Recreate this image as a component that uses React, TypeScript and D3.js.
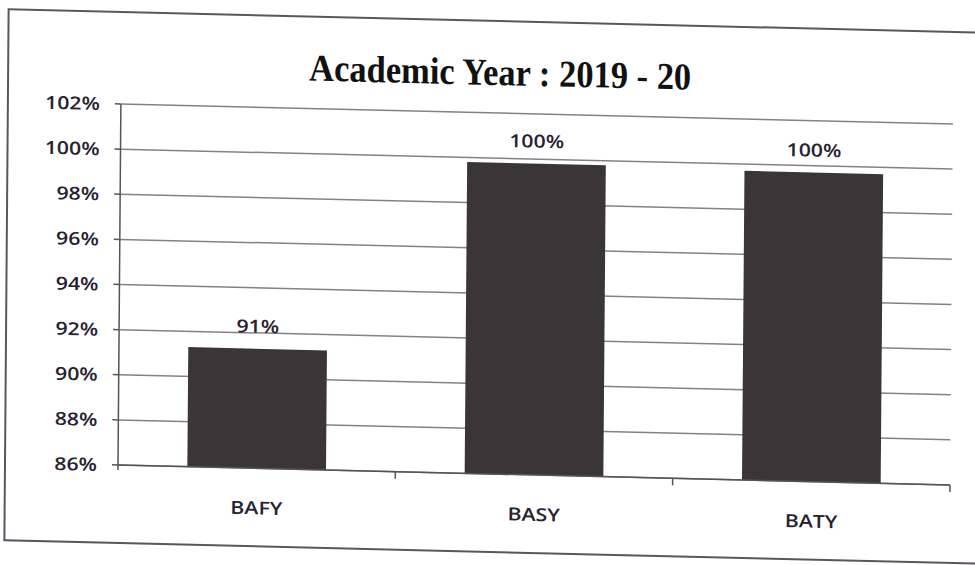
import React from "react";
import * as d3 from "d3";

const categories = ["BAFY", "BASY", "BATY"];
const values = [0.913, 0.998, 0.997];
const yTicks = [0.86, 0.88, 0.9, 0.92, 0.94, 0.96, 0.98, 1.0, 1.02];
const title = "Academic Year : 2019 - 20";

export default function App() {
  const W = 975;
  const H = 565;
  const left = 118;
  const right = 950;
  const top = 104;
  const bottom = 465;

  const x = d3.scaleBand<string>().domain(categories).range([left, right]).paddingInner(0.5).paddingOuter(0.25);
  const y = d3.scaleLinear().domain([0.86, 1.02]).range([bottom, top]);
  const fmt = d3.format(".0%");
  const step = x.step();
  const boundaries = [1, 2, 3].map((k) => left + step * k);

  const sans = "'Open Sans', 'Noto Sans', sans-serif";
  const sx = 1.18;

  const label = (tx: number, ty: number, s: string, anchor: string, key?: string) => (
    <g key={key} transform={`translate(${tx},${ty}) scale(${sx},1)`}>
      <text x={0} y={0} textAnchor={anchor} fontFamily={sans} fontWeight={600} fontSize={18} fill="#262230">
        {s}
      </text>
    </g>
  );

  return (
    <svg width={W} height={H} style={{ position: "absolute", left: 0, top: 0, background: "#fff" }}>
      <rect x={0} y={0} width={W} height={H} fill="#ffffff" />
      <g transform="matrix(1,0.024,-0.008,1,3.72,-2.83)">
        <rect x={5} y={12} width={1000} height={531} fill="#fff" stroke="#5a5560" strokeWidth={2} />
        <text
          x={497}
          y={76}
          textAnchor="middle"
          fontFamily="'Liberation Serif', 'Times New Roman', serif"
          fontWeight="bold"
          fontSize={38}
          textLength={382}
          lengthAdjust="spacingAndGlyphs"
          fill="#111"
        >
          {title}
        </text>
        {yTicks.map((t) => (
          <g key={t}>
            <line x1={left} x2={right} y1={y(t)} y2={y(t)} stroke="#858088" strokeWidth={1.5} />
            <line x1={left - 6} x2={left} y1={y(t)} y2={y(t)} stroke="#555" strokeWidth={1.5} />
            {label(97, y(t) + 6.5, fmt(t), "end")}
          </g>
        ))}
        {categories.map((c, i) => (
          <g key={c}>
            <rect
              x={x(c)}
              y={y(values[i])}
              width={x.bandwidth()}
              height={bottom - y(values[i])}
              fill="#3b3538"
            />
            {label((x(c) as number) + x.bandwidth() / 2, y(values[i]) - 16, fmt(values[i]), "middle")}
            {label((x(c) as number) + x.bandwidth() / 2, 511, c, "middle")}
          </g>
        ))}
        <line x1={left} x2={left} y1={top} y2={bottom + 5} stroke="#555" strokeWidth={1.5} />
        <line x1={left} x2={right} y1={bottom} y2={bottom} stroke="#555" strokeWidth={1.5} />
        {boundaries.map((b) => (
          <line key={b} x1={b} x2={b} y1={bottom} y2={bottom + 7} stroke="#555" strokeWidth={1.5} />
        ))}
      </g>
    </svg>
  );
}
